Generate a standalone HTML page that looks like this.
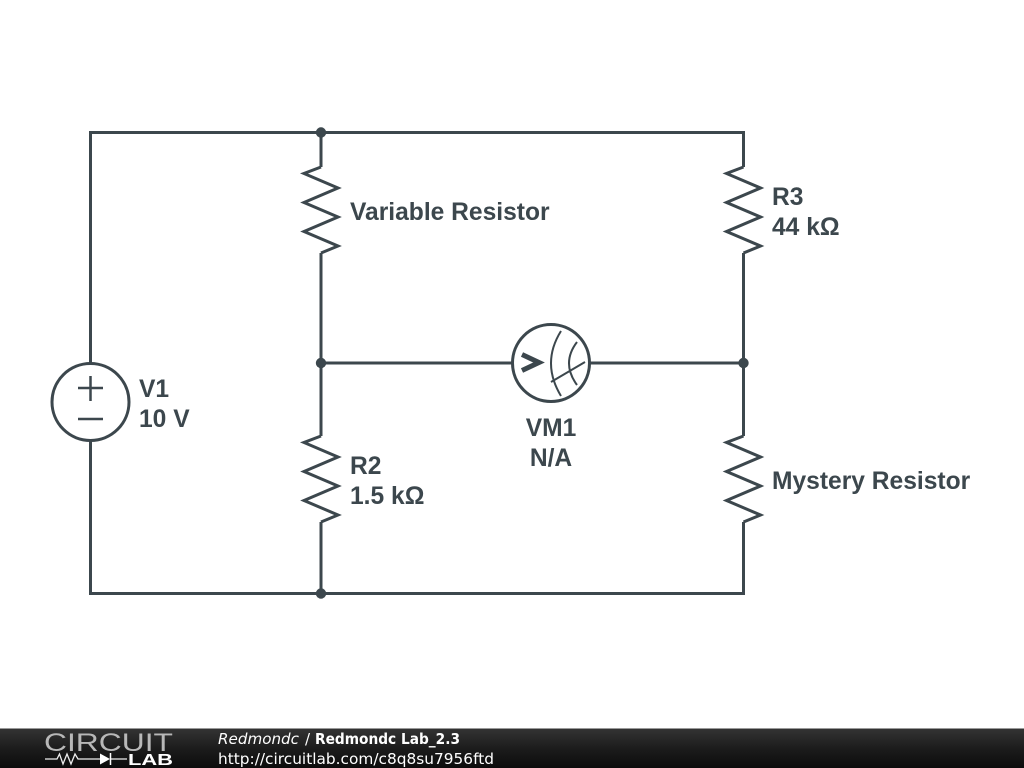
<!DOCTYPE html>
<html>
<head>
<meta charset="utf-8">
<style>
html,body{margin:0;padding:0;background:#fff;width:1024px;height:768px;overflow:hidden}
svg{display:block}
.l{font-family:"Liberation Sans",sans-serif;font-weight:bold;font-size:24.6px;fill:#3c474d}
.f{font-family:"DejaVu Sans",sans-serif;font-size:15px;fill:#fff}
</style>
</head>
<body>
<svg width="1024" height="768" viewBox="0 0 1024 768" xmlns="http://www.w3.org/2000/svg">
<defs>
<linearGradient id="bar" x1="0" y1="0" x2="0" y2="1">
<stop offset="0" stop-color="#333"/>
<stop offset="0.5" stop-color="#1c1c1c"/>
<stop offset="1" stop-color="#0c0c0c"/>
</linearGradient>
</defs>
<rect width="1024" height="768" fill="#fff"/>
<g fill="none" stroke="#3c474d" stroke-width="3" stroke-linejoin="miter">
<path d="M90.500 363V132.500H743.500V167"/>
<path d="M90.500 441V593.500H743.500V522"/>
<path d="M321 132.500V167M321 253V436M321 522V593.500"/>
<path d="M743.500 253V436"/>
<path d="M321 363H512M590 363H743.500"/>
<path d="M321 167L304 173.500L338 188L304 202.500L338 217L304 231.500L338 246L321 253"/>
<path d="M321 436L304 442.500L338 457L304 471.500L338 486L304 500.500L338 515L321 522"/>
<path d="M743.500 167L726.500 173.500L760.500 188L726.500 202.500L760.500 217L726.500 231.500L760.500 246L743.500 253"/>
<path d="M743.500 436L726.500 442.500L760.500 457L726.500 471.500L760.500 486L726.500 500.500L760.500 515L743.500 522"/>
<circle cx="90.500" cy="402" r="38.500"/>
<path stroke-width="2.500" d="M78 388H103M90.500 376V401M78 419H103"/>
<circle cx="551" cy="363" r="38.500"/>
<path d="M522 354.500L539 362.500L522 370.500" stroke-width="5"/>
<path stroke-width="2" d="M561 331Q541 363 561 396M577 342Q561 363 577 385M551 382L585 362"/>
</g>
<g fill="#3c474d">
<circle cx="321" cy="132.500" r="5.200"/>
<circle cx="321" cy="363" r="5.200"/>
<circle cx="743.500" cy="363" r="5.200"/>
<circle cx="321" cy="593.500" r="5.200"/>
</g>
<text class="l" x="350" y="220">Variable Resistor</text>
<text class="l" x="772" y="205">R3</text>
<text class="l" x="772" y="235">44 kΩ</text>
<text class="l" x="139" y="397">V1</text>
<text class="l" x="139" y="427">10 V</text>
<text class="l" x="350" y="474">R2</text>
<text class="l" x="350" y="504">1.5 kΩ</text>
<text class="l" x="772" y="489">Mystery Resistor</text>
<text class="l" x="551" y="436" text-anchor="middle">VM1</text>
<text class="l" x="551" y="466" text-anchor="middle">N/A</text>

<rect x="0" y="728" width="1024" height="1" fill="#999"/>
<rect x="0" y="729" width="1024" height="39" fill="url(#bar)"/>
<text x="44" y="751" font-family="'Liberation Sans',sans-serif" font-size="25" fill="#b8b8b8" textLength="129" lengthAdjust="spacingAndGlyphs">CIRCUIT</text>
<path d="M45 759H57L59.500 754L63 764L67 754L71 764L75 754L78 759H100M110 759H127" fill="none" stroke="#eee" stroke-width="1.300"/>
<path d="M100 753.500L110 759L100 764.500Z" fill="#fff"/>
<path d="M110.500 753V765" stroke="#fff" stroke-width="1.500"/>
<text x="128" y="765" font-family="'Liberation Sans',sans-serif" font-weight="bold" font-size="15.500" fill="#fff" textLength="45" lengthAdjust="spacingAndGlyphs">LAB</text>
<text class="f" x="218" y="744" font-style="italic" textLength="81" lengthAdjust="spacingAndGlyphs">Redmondc</text>
<text class="f" x="305" y="744">/</text>
<text class="f" x="315" y="744" font-weight="bold" textLength="145" lengthAdjust="spacingAndGlyphs">Redmondc Lab_2.3</text>
<text class="f" x="218" y="764" textLength="276" lengthAdjust="spacingAndGlyphs">http://circuitlab.com/c8q8su7956ftd</text>
</svg>
</body>
</html>
